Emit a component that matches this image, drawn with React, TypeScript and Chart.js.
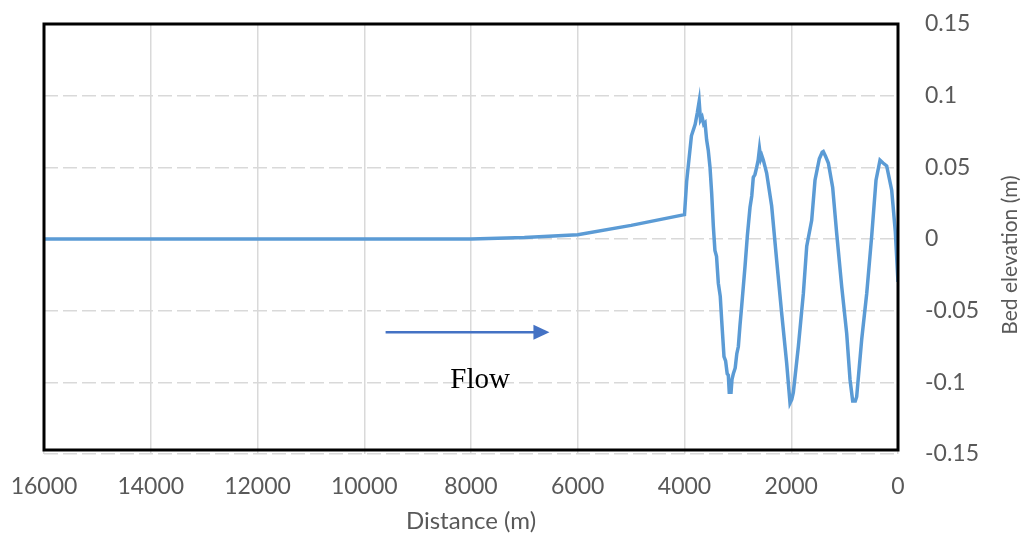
import React, { useEffect, useRef } from "react";
import { Chart, registerables } from "chart.js";

Chart.register(...registerables);

// Distance (m) along the channel and bed elevation (m)
const distances = [
  16000, 14000, 12000, 10000, 8000, 7000, 6000, 5000, 4000, 3960, 3870, 3800,
  3760, 3725, 3700, 3670, 3640, 3615, 3585, 3555, 3522, 3491, 3460, 3430, 3400,
  3366, 3330, 3303, 3260, 3230, 3200, 3179, 3160, 3145, 3130, 3110, 3085, 3050,
  3020, 2991, 2960, 2929, 2866, 2823, 2773, 2740, 2711, 2680, 2648, 2620, 2595,
  2570, 2550, 2523, 2461, 2367, 2273, 2179, 2085, 2023, 1990, 1961, 1867, 1773,
  1710, 1617, 1555, 1474, 1420, 1399, 1360, 1305, 1224, 1149, 1055, 961, 899,
  849, 800, 774, 680, 586, 493, 412, 337, 280, 212, 118, 50, 0,
];
const elevations = [
  0, 0, 0, 0, 0, 0.001, 0.003, 0.0095, 0.017, 0.04, 0.072, 0.08,
  0.088, 0.096, 0.083, 0.085, 0.08, 0.081, 0.069, 0.062, 0.05, 0.032, 0.009, -0.008, -0.012,
  -0.031, -0.04, -0.057, -0.082, -0.085, -0.094, -0.095, -0.108, -0.101, -0.108, -0.098, -0.094, -0.09,
  -0.08, -0.075, -0.06, -0.047, -0.019, 0.002, 0.022, 0.03, 0.043, 0.045, 0.05, 0.055, 0.063,
  0.056, 0.058, 0.055, 0.046, 0.023, -0.015, -0.052, -0.087, -0.1145, -0.112, -0.107, -0.075, -0.038,
  -0.005, 0.013, 0.041, 0.056, 0.0605, 0.061, 0.058, 0.053, 0.036, 0.004, -0.033, -0.066, -0.098,
  -0.113, -0.113, -0.11, -0.07, -0.038, 0.002, 0.041, 0.055, 0.053, 0.051, 0.034, 0.005, -0.03,
];

const xTickValues = [0, 2000, 4000, 6000, 8000, 10000, 12000, 14000, 16000];
const xTickLabels = ["0", "2000", "4000", "6000", "8000", "10000", "12000", "14000", "16000"];
const yTickValues = [-0.15, -0.1, -0.05, 0, 0.05, 0.1, 0.15];
const yTickLabels = ["-0.15", "-0.1", "-0.05", "0", "0.05", "0.1", "0.15"];

const xAxisTitle = "Distance (m)";
const yAxisTitle = "Bed elevation (m)";
const flowLabel = "Flow";
const flowArrowFrom = [9600, -0.065];
const flowArrowTo = [6530, -0.065];
const flowLabelAt = [7830, -0.0985];

const LINE_COLOR = "#5B9BD5";
const TICK_COLOR = "#595959";
const GRID_COLOR = "#D9D9D9";
const FONT = "Lato, 'Liberation Sans', sans-serif";

const overlayPlugin = {
  id: "overlay",
  afterDraw(chart: any) {
    const { ctx, chartArea, scales } = chart;
    const xs = scales.x;
    const ys = scales.y;
    ctx.save();
    // black frame
    ctx.strokeStyle = "#000";
    ctx.lineWidth = 3;
    ctx.strokeRect(chartArea.left, chartArea.top, chartArea.right - chartArea.left, chartArea.bottom - chartArea.top - 4);

    // flow arrow
    const x1 = xs.getPixelForValue(flowArrowFrom[0]);
    const y1 = ys.getPixelForValue(flowArrowFrom[1]);
    const x2 = xs.getPixelForValue(flowArrowTo[0]);
    const y2 = ys.getPixelForValue(flowArrowTo[1]);
    ctx.strokeStyle = "#4472C4";
    ctx.fillStyle = "#4472C4";
    ctx.lineWidth = 2.5;
    ctx.beginPath();
    ctx.moveTo(x1, y1);
    ctx.lineTo(x2 - 14, y2);
    ctx.stroke();
    ctx.beginPath();
    ctx.moveTo(x2, y2);
    ctx.lineTo(x2 - 16, y2 - 7.5);
    ctx.lineTo(x2 - 16, y2 + 7.5);
    ctx.closePath();
    ctx.fill();

    // flow label
    ctx.fillStyle = "#000";
    ctx.font = "29px 'Liberation Serif', 'Times New Roman', serif";
    ctx.textAlign = "center";
    ctx.textBaseline = "middle";
    ctx.fillText(flowLabel, xs.getPixelForValue(flowLabelAt[0]), ys.getPixelForValue(flowLabelAt[1]));

    // y axis title (reads bottom to top)
    ctx.fillStyle = TICK_COLOR;
    ctx.font = "21px " + FONT;
    ctx.translate(1010, (chartArea.top + chartArea.bottom) / 2 + 16);
    ctx.rotate(-Math.PI / 2);
    ctx.fillText(yAxisTitle, 0, 0);
    ctx.restore();
  },
};

export default function App() {
  const canvasRef = useRef<HTMLCanvasElement | null>(null);

  useEffect(() => {
    if (!canvasRef.current) return;
    const points = distances.map((d, i) => ({ x: d, y: elevations[i] }));
    const chart = new Chart(canvasRef.current, {
      type: "line",
      data: {
        datasets: [
          {
            data: points,
            borderColor: LINE_COLOR,
            borderWidth: 3.5,
            pointRadius: 0,
            tension: 0,
            fill: false,
          },
        ],
      },
      options: {
        animation: false,
        responsive: false,
        devicePixelRatio: 1,
        layout: { padding: { left: 44, top: 24, right: 0, bottom: 0 } },
        plugins: { legend: { display: false }, tooltip: { enabled: false } },
        scales: {
          x: {
            type: "linear",
            reverse: true,
            min: 0,
            max: 16000,
            afterFit: (s: any) => {
              s.height = 82;
            },
            afterBuildTicks: (s: any) => {
              s.ticks = xTickValues.map((v) => ({ value: v }));
            },
            ticks: {
              color: TICK_COLOR,
              font: { family: FONT, size: 23 },
              padding: 19,
              maxRotation: 0,
              autoSkip: false,
              callback: (v: any) => {
                const i = xTickValues.findIndex((t) => Math.abs(t - Number(v)) < 1e-6);
                return i >= 0 ? xTickLabels[i] : "";
              },
            },
            grid: { color: GRID_COLOR, lineWidth: 1.5, drawTicks: false },
            border: { display: false },
            title: {
              display: true,
              text: xAxisTitle,
              color: TICK_COLOR,
              font: { family: FONT, size: 24 },
              padding: { top: 0, bottom: 0 },
            },
          },
          y: {
            type: "linear",
            position: "right",
            min: -0.15,
            max: 0.15,
            afterFit: (s: any) => {
              s.width = 125;
            },
            afterBuildTicks: (s: any) => {
              s.ticks = yTickValues.map((v) => ({ value: v }));
            },
            ticks: {
              color: TICK_COLOR,
              font: { family: FONT, size: 23 },
              padding: 0,
              crossAlign: "near",
              callback: (v: any) => {
                const i = yTickValues.findIndex((t) => Math.abs(t - Number(v)) < 1e-6);
                return i >= 0 ? yTickLabels[i] : "";
              },
            },
            grid: {
              color: GRID_COLOR,
              lineWidth: 1.5,
              drawTicks: true,
              tickLength: 27,
              tickColor: "rgba(0,0,0,0)",
            },
            border: { display: false, dash: [14, 5] },
          },
        },
      },
      plugins: [overlayPlugin],
    });
    return () => chart.destroy();
  }, []);

  return (
    <div style={{ position: "absolute", left: 0, top: 0, width: 1023, height: 536, background: "#fff" }}>
      <canvas ref={canvasRef} width={1023} height={536} />
    </div>
  );
}
